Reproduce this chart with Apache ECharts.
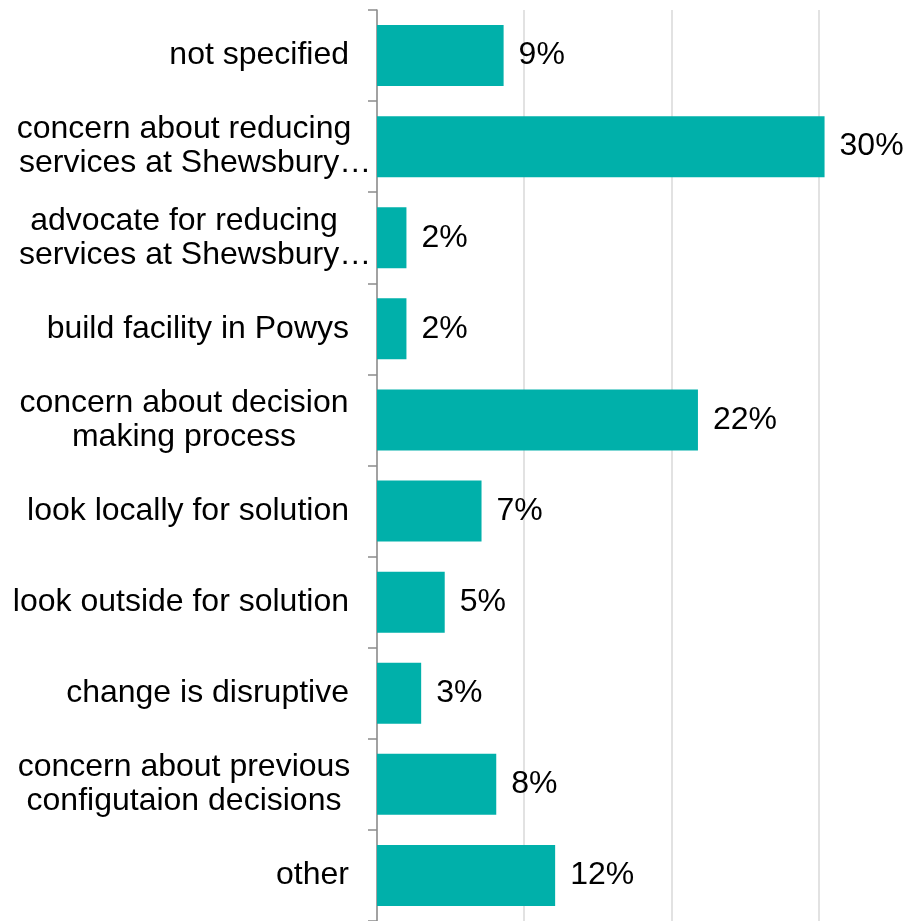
<!DOCTYPE html>
<html>
<head>
<meta charset="utf-8">
<style>html,body{margin:0;padding:0;background:#fff;}#c{width:907px;height:921px;}</style>
<script src="https://cdn.jsdelivr.net/npm/echarts@6/dist/echarts.min.js"></script>
</head>
<body>
<div id="c"></div>
<script>
var categories = [
  'not specified',
  'concern about reducing\nservices at Shewsbury…',
  'advocate for reducing\nservices at Shewsbury…',
  'build facility in Powys',
  'concern about decision\nmaking process',
  'look locally for solution',
  'look outside for solution',
  'change is disruptive',
  'concern about previous\nconfigutaion decisions',
  'other'
];
var values = [8.6, 30.4, 2.0, 2.0, 21.8, 7.1, 4.6, 3.0, 8.1, 12.1];
var xTicks = [0, 10, 20, 30];
var xMax = 36;

var FONT = 'Liberation Sans, Arial, sans-serif';
var chart = echarts.init(document.getElementById('c'));
chart.setOption({
  animation: false,
  grid: { left: 377, top: 10, right: 0, bottom: -3, containLabel: false },
  xAxis: {
    type: 'value', min: xTicks[0], max: xMax, interval: 10,
    axisLabel: { show: false }, axisLine: { show: false }, axisTick: { show: false },
    splitLine: { show: true, showMaxLine: false, lineStyle: { color: '#d9d9d9', width: 1.5 } }
  },
  yAxis: {
    type: 'category', data: categories, inverse: true,
    axisLine: { show: true, lineStyle: { color: '#8c8c8c', width: 1.5 } },
    axisTick: { show: true, length: 9, lineStyle: { color: '#8c8c8c', width: 1.5 } },
    axisLabel: {
      margin: 28, fontSize: 32, lineHeight: 34, color: '#000', fontFamily: FONT,
      formatter: function (v) {
        if (v.indexOf('\n') < 0) return v;
        return v.split('\n').map(function (s) {
          return (s.indexOf('…') >= 0 ? '{s|' : '{m|') + s + '}';
        }).join('\n');
      },
      rich: {
        m: { fontSize: 32, lineHeight: 34, color: '#000', fontFamily: FONT, width: 330, align: 'center' },
        s: { fontSize: 32, lineHeight: 34, color: '#000', fontFamily: FONT, width: 330, align: 'left' }
      }
    }
  },
  series: [{
    type: 'bar', data: values, barWidth: 61,
    itemStyle: { color: '#00B0AA' },
    label: {
      show: true, position: 'right', distance: 15, fontSize: 32, color: '#000', fontFamily: FONT,
      formatter: function (p) { return Math.round(p.value) + '%'; }
    }
  }]
});
</script>
</body>
</html>
